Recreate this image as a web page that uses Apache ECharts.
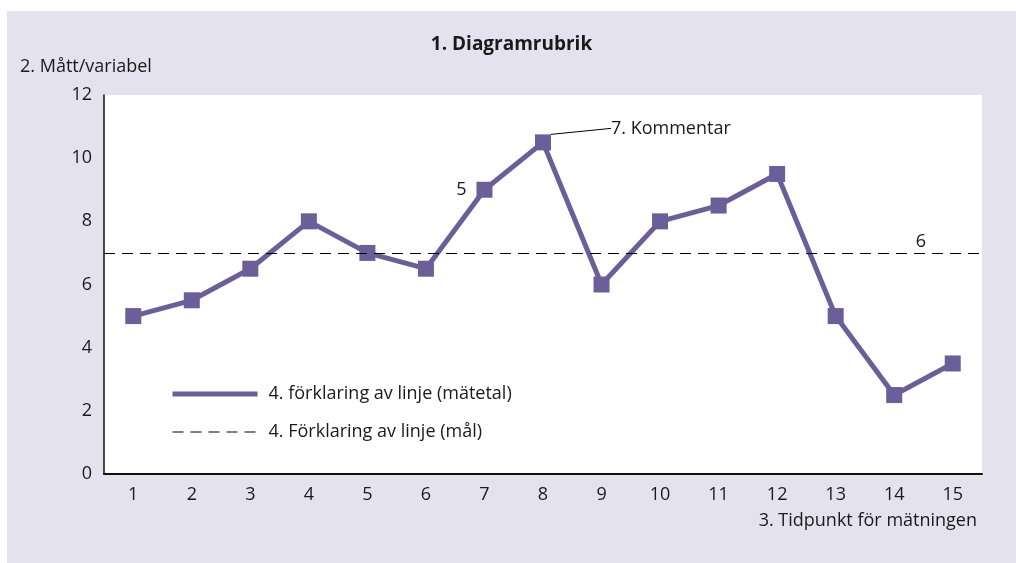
<!DOCTYPE html>
<html>
<head>
<meta charset="utf-8">
<script src="https://cdn.jsdelivr.net/npm/echarts@6/dist/echarts.min.js"></script>
<style>
  html, body { margin: 0; padding: 0; background: #fff; }
  #chart { position: absolute; left: 7px; top: 11px; width: 1009px; height: 552px; }
</style>
</head>
<body>
<div id="chart"></div>
<script>
// data
var categories = ['1', '2', '3', '4', '5', '6', '7', '8', '9', '10', '11', '12', '13', '14', '15']
var matetal = [5, 5.5, 6.5, 8, 7, 6.5, 9, 10.5, 6, 8, 8.5, 9.5, 5, 2.5, 3.5]
var malValue = 7
var yTicks = [0, 2, 4, 6, 8, 10, 12]

var seriesNames = ['4. förklaring av linje (mätetal)', '4. Förklaring av linje (mål)']
var fontFamily = '"Open Sans", "Noto Sans", sans-serif'
var fs = 18
var purple = '#6a5f99'
var txt = '#1a1a1a'

var lineData = matetal.map(function (v, i) {
  if (i === 6) {
    return { value: v, label: { show: true, position: 'left', distance: 10, formatter: '5' } }
  }
  if (i === 7) {
    return {
      value: v,
      label: { show: true, position: 'right', distance: 5, formatter: '7. Kommentar' },
      labelLine: { show: true, lineStyle: { color: '#000', width: 1 } }
    }
  }
  return v
})

var chart = echarts.init(document.getElementById('chart'))
chart.setOption({
  backgroundColor: '#e4e2ee',
  textStyle: { fontFamily: fontFamily, color: txt },
  animation: false,
  title: {
    text: '1. Diagramrubrik',
    left: 'center',
    top: 24,
    padding: 0,
    textStyle: { fontFamily: fontFamily, fontSize: 19, fontWeight: 'bold', color: txt }
  },
  legend: {
    orient: 'vertical',
    left: 163,
    top: 374,
    padding: 0,
    itemWidth: 85,
    itemHeight: 14,
    itemGap: 20,
    textStyle: { fontFamily: fontFamily, fontSize: fs, color: txt, padding: [0, 0, 0, 6] },
    data: [
      { name: seriesNames[0], itemStyle: { opacity: 0 }, lineStyle: { width: 5, color: purple } },
      { name: seriesNames[1], itemStyle: { opacity: 0 }, lineStyle: { width: 1, color: '#000', type: [11, 7] } }
    ]
  },
  grid: {
    left: 97,
    right: 34,
    top: 84,
    bottom: 89,
    outerBoundsMode: 'none',
    containLabel: false,
    show: true,
    backgroundColor: '#fff',
    borderWidth: 0
  },
  xAxis: {
    type: 'category',
    data: categories,
    boundaryGap: true,
    name: '3. Tidpunkt för mätningen',
    nameLocation: 'end',
    nameGap: -5,
    nameTextStyle: { fontFamily: fontFamily, fontSize: fs, color: txt, align: 'right', verticalAlign: 'top', padding: [38, 0, 0, 0] },
    axisLine: { lineStyle: { color: '#111', width: 2 } },
    axisTick: { show: false },
    axisLabel: { fontFamily: fontFamily, fontSize: fs, color: txt, margin: 12 },
    splitLine: { show: false }
  },
  yAxis: {
    type: 'value',
    min: yTicks[0],
    max: yTicks[yTicks.length - 1],
    interval: 2,
    name: '2. Mått/variabel',
    nameLocation: 'end',
    nameGap: 19,
    nameTextStyle: { fontFamily: fontFamily, fontSize: fs, color: txt, align: 'left', padding: [0, 0, 0, -84] },
    axisLine: { show: true, lineStyle: { color: '#111', width: 1.5 } },
    axisTick: { show: false },
    axisLabel: { fontFamily: fontFamily, fontSize: fs, color: txt, margin: 12 },
    splitLine: { show: false }
  },
  series: [
    {
      name: seriesNames[0],
      type: 'line',
      data: lineData,
      color: purple,
      symbol: 'rect',
      symbolSize: 16,
      lineStyle: { color: purple, width: 5 },
      itemStyle: { color: purple },
      label: { fontFamily: fontFamily, fontSize: fs, color: txt },
      labelLayout: function (p) {
        if (p.dataIndex === 7) return { dx: 55, dy: -14 }
      },
      z: 3
    },
    {
      name: seriesNames[1],
      type: 'line',
      data: [],
      color: '#000',
      symbol: 'none',
      lineStyle: { color: '#000', width: 1, type: [11, 7] },
      markLine: {
        silent: true,
        symbol: 'none',
        data: [{ yAxis: malValue }],
        lineStyle: { color: '#000', width: 1, type: [11, 7] },
        label: {
          show: true,
          formatter: '6',
          position: 'insideEndTop',
          distance: 2,
          fontFamily: fontFamily,
          fontSize: fs,
          color: txt,
          padding: [0, 54, 0, 0]
        }
      },
      z: 2
    }
  ]
})
</script>
</body>
</html>
